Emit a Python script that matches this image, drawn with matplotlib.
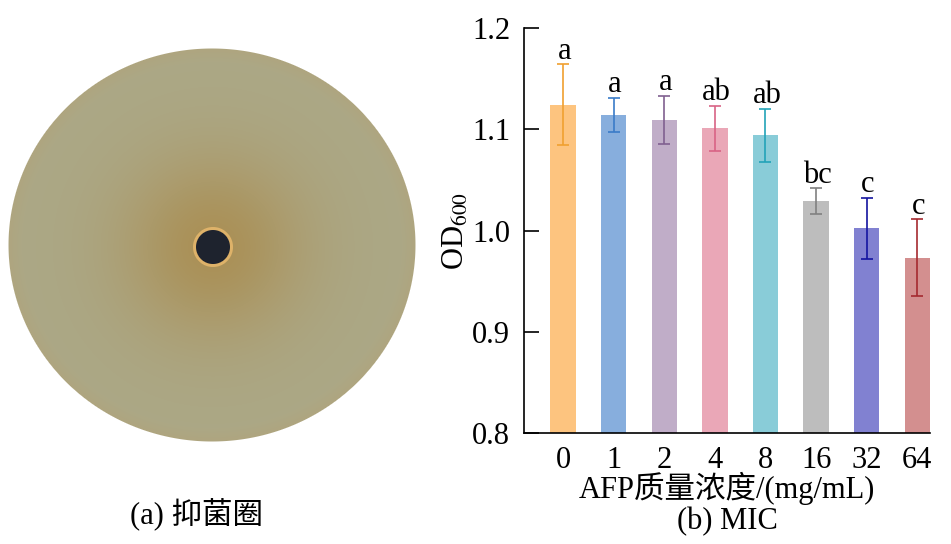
import numpy as np
import matplotlib.pyplot as plt

plt.rcParams["font.family"] = ["Liberation Serif", "Noto Sans CJK SC"]
plt.rcParams["mathtext.fontset"] = "stix"

# bar chart data (b) MIC
concentrations = ["0", "1", "2", "4", "8", "16", "32", "64"]
od600 = [1.124, 1.114, 1.109, 1.101, 1.094, 1.029, 1.002, 0.973]
od600_err = [0.040, 0.017, 0.024, 0.022, 0.026, 0.0125, 0.030, 0.038]
sig_letters = ["a", "a", "a", "ab", "ab", "bc", "c", "c"]
bar_colors = ["#FDC47F", "#87AEDD", "#C0ADC8", "#EAA7B7",
              "#89CCD8", "#BDBDBD", "#8181D1", "#D38F8F"]
err_colors = ["#F0A030", "#3A7BC8", "#806090", "#D86385",
              "#22A3B8", "#808080", "#1414A0", "#A52A30"]

W, H = 951, 544
FS = 22
fig = plt.figure(figsize=(W / 100, H / 100), dpi=100)

# ---- (a) petri dish picture, drawn in pixel space ----
ax_img = fig.add_axes([0, 0, 430 / W, 1])
ax_img.set_axis_off()
yy, xx = np.mgrid[0:H, 0:430] + 0.5
cx, cy, rx, ry = 212.0, 245.0, 204.0, 197.0
hx, hy = 213.0, 247.0

outer = np.array([172, 168, 134]) / 255
halo = np.array([170, 140, 78]) / 255
rim = np.array([180, 160, 115]) / 255

dh = np.hypot(xx - hx, yy - hy)
w_halo = (0.85 * np.exp(-(dh / 90.0) ** 2))[..., None]
de = np.hypot((xx - cx) / rx, (yy - cy) / ry)
w_rim = np.clip((de - 0.93) / 0.07, 0, 1)[..., None] * 0.35
rgb = outer * (1 - w_halo) + halo * w_halo
rgb = rgb * (1 - w_rim) + rim * w_rim

ring = np.array([222, 178, 105]) / 255
dark = np.array([30, 35, 46]) / 255
a_ring = np.clip(20.5 - dh, 0, 1)[..., None]
rgb = rgb * (1 - a_ring) + ring * a_ring
a_dark = np.clip(17.5 - dh, 0, 1)[..., None]
rgb = rgb * (1 - a_dark) + dark * a_dark

alpha = np.clip((1 - de) * min(rx, ry), 0, 1)[..., None]
img = rgb * alpha + (1 - alpha)
ax_img.imshow(img, extent=(0, 430, H, 0), interpolation="bilinear")
ax_img.set_xlim(0, 430)
ax_img.set_ylim(H, 0)
ax_img.text(197, 515, "(a) 抑菌圈", fontsize=FS, ha="center", va="center")

# ---- (b) bar chart ----
ax = fig.add_axes([524 / W, (H - 433) / H, (930 - 524) / W, (433 - 28) / H])
x = np.arange(len(concentrations))
ax.bar(x, od600, width=0.5, color=bar_colors, zorder=1)
for xi, v, e, c, lab in zip(x, od600, od600_err, err_colors, sig_letters):
    ax.errorbar(xi, v, yerr=e, fmt="none", ecolor=c, elinewidth=1.2,
                capsize=4.5, capthick=1.2, zorder=2)
    ax.annotate(lab, (xi, v + e), xytext=(1, -1), textcoords="offset points",
                ha="center", va="bottom", fontsize=FS)

ax.set_ylim(0.8, 1.2)
ax.set_xlim(-0.77, 7.25)
ax.set_yticks([0.8, 0.9, 1.0, 1.1, 1.2])
ax.set_yticklabels(["0.8", "0.9", "1.0", "1.1", "1.2"])
ax.set_xticks(x)
ax.set_xticklabels(concentrations)
ax.tick_params(axis="y", direction="in", length=11, width=1.2,
               labelsize=FS, pad=10)
ax.tick_params(axis="x", length=0, labelsize=FS, pad=9)
for side in ["top", "right"]:
    ax.spines[side].set_visible(False)
for side in ["left", "bottom"]:
    ax.spines[side].set_linewidth(1.2)

ax.set_ylabel("OD$_{600}$", fontsize=FS, labelpad=1)
ax.set_xlabel("AFP质量浓度/(mg/mL)", fontsize=FS, labelpad=-2)
fig.text(727 / W, 1 - 522 / H, "(b) MIC", fontsize=FS, ha="center", va="center")

fig.savefig("out.png", dpi=100)
